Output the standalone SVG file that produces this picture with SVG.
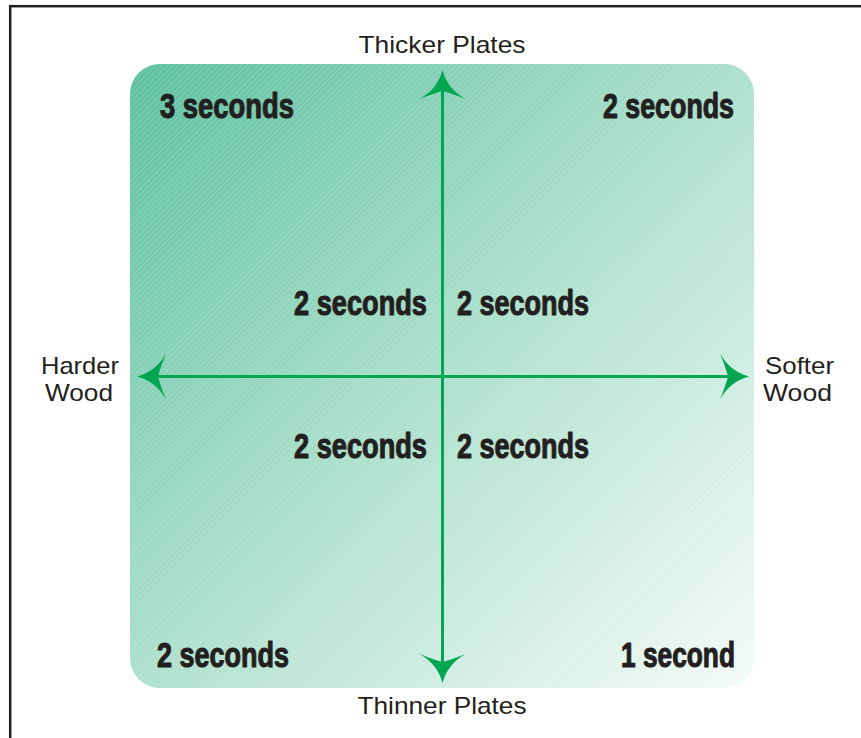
<svg xmlns="http://www.w3.org/2000/svg" width="861" height="738" viewBox="0 0 861 738">
<style>
.lbl{font-family:"Liberation Sans",Arial,sans-serif;font-size:24px;fill:#231f20;text-anchor:middle}
.big{font-family:"Liberation Sans",Arial,sans-serif;font-weight:bold;font-size:35px;fill:#231f20;stroke:#231f20;stroke-width:1.1;stroke-linejoin:round}
.axis{stroke:#00a650;stroke-width:3;fill:none;marker-start:url(#ah);marker-end:url(#ah)}
</style>
<defs>
<linearGradient id="bg" x1="130" y1="64" x2="754" y2="688" gradientUnits="userSpaceOnUse">
<stop offset="0" stop-color="#5cc09f"/>
<stop offset="0.5" stop-color="#ade0cd"/>
<stop offset="1" stop-color="#f4fbf8"/>
</linearGradient>
<pattern id="hatch" width="4" height="4" patternUnits="userSpaceOnUse" patternTransform="rotate(45)">
<rect x="0" y="0" width="1" height="4" fill="#ffffff" fill-opacity="0.16"/>
</pattern>
<marker id="ah" viewBox="-40 -25 41 50" refX="-10" refY="0" markerWidth="41" markerHeight="50" markerUnits="userSpaceOnUse" orient="auto-start-reverse">
<path d="M0,0 Q-19,-5 -29,-23 Q-23,-8 -21,0 Q-23,8 -29,23 Q-19,5 0,0 Z" fill="#00a650"/>
</marker>
</defs>
<rect x="10.2" y="6.2" width="900" height="800" fill="#ffffff" stroke="#231f20" stroke-width="2.5"/>
<g id="panel">
<rect x="130" y="64" width="624" height="624" rx="30" fill="url(#bg)"/>
<rect x="130" y="64" width="624" height="624" rx="30" fill="url(#hatch)"/>
</g>
<g id="connectors">
<line class="axis" x1="442.5" y1="80" x2="442.5" y2="673"/>
<line class="axis" x1="147" y1="376.5" x2="739" y2="376.5"/>
</g>
<g id="axis-labels">
<text id="top" class="lbl" x="442" y="53" textLength="167" lengthAdjust="spacingAndGlyphs">Thicker Plates</text>
<text id="bottom" class="lbl" x="442" y="714" textLength="169" lengthAdjust="spacingAndGlyphs">Thinner Plates</text>
<g id="left" class="lbl">
<text x="80" y="374" textLength="78" lengthAdjust="spacingAndGlyphs">Harder</text>
<text x="79" y="401" textLength="68" lengthAdjust="spacingAndGlyphs">Wood</text>
</g>
<g id="right" class="lbl">
<text x="799.5" y="374" textLength="69" lengthAdjust="spacingAndGlyphs">Softer</text>
<text x="797.5" y="401" textLength="69" lengthAdjust="spacingAndGlyphs">Wood</text>
</g>
</g>
<g id="times">
<text id="t-tl" class="big" x="160" y="118" textLength="134" lengthAdjust="spacingAndGlyphs">3 seconds</text>
<text id="t-tr" class="big" x="603" y="118" textLength="131" lengthAdjust="spacingAndGlyphs">2 seconds</text>
<text id="t-cul" class="big" x="294" y="315" textLength="133" lengthAdjust="spacingAndGlyphs">2 seconds</text>
<text id="t-cur" class="big" x="457" y="315" textLength="132" lengthAdjust="spacingAndGlyphs">2 seconds</text>
<text id="t-cll" class="big" x="294" y="458" textLength="133" lengthAdjust="spacingAndGlyphs">2 seconds</text>
<text id="t-clr" class="big" x="457" y="458" textLength="132" lengthAdjust="spacingAndGlyphs">2 seconds</text>
<text id="t-bl" class="big" x="157" y="667" textLength="132" lengthAdjust="spacingAndGlyphs">2 seconds</text>
<text id="t-br" class="big" x="621" y="667" textLength="114" lengthAdjust="spacingAndGlyphs">1 second</text>
</g>
</svg>
